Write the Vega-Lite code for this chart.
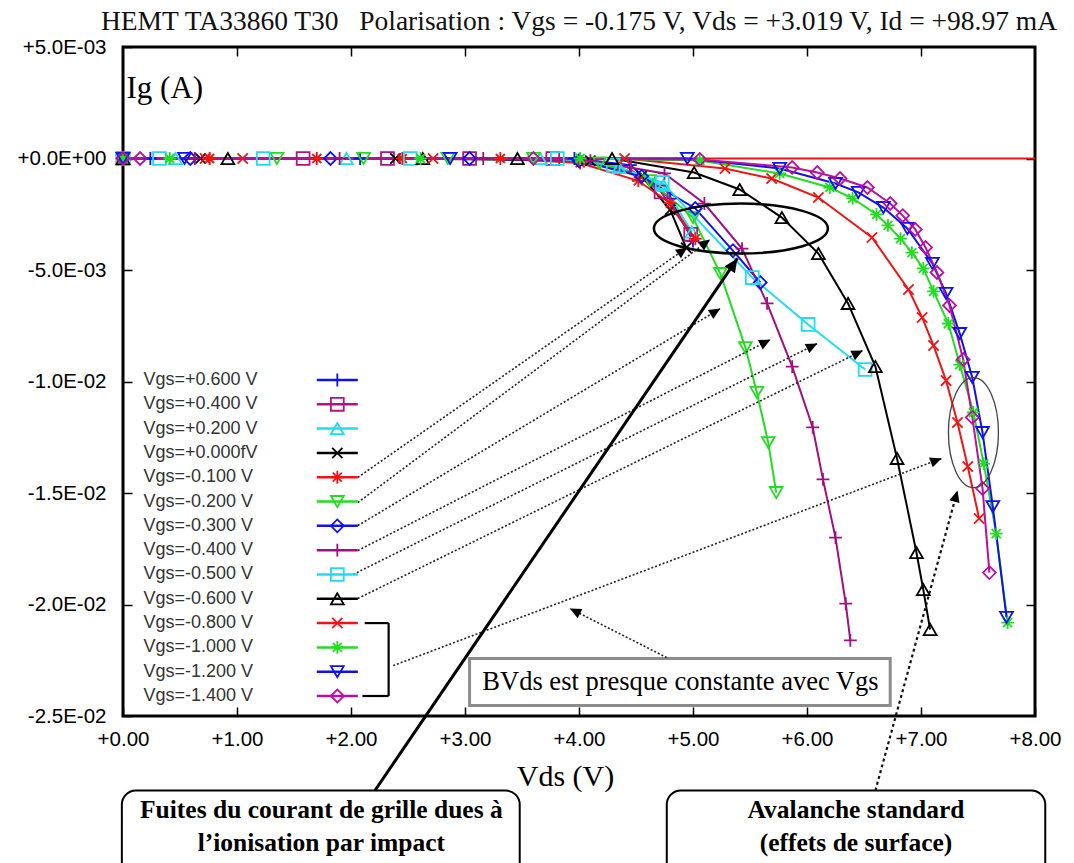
{
  "$schema": "https://vega.github.io/schema/vega-lite/v6.json",
  "width": 912,
  "height": 669,
  "autosize": {"type": "none"},
  "padding": {"left": 123, "top": 47, "right": 39, "bottom": 147},
  "background": "white",
  "title": {
    "text": "HEMT TA33860 T30\u00a0\u00a0 Polarisation : Vgs = -0.175 V, Vds = +3.019 V, Id = +98.97 mA",
    "font": "Liberation Serif",
    "fontSize": 27.5,
    "fontWeight": "normal",
    "color": "#111111",
    "anchor": "middle",
    "frame": "group",
    "offset": 2
  },
  "config": {
    "view": {"stroke": "black", "strokeWidth": 3},
    "axis": {
      "grid": false,
      "domain": false,
      "labelFont": "Liberation Sans",
      "labelFontSize": 20.5,
      "labelColor": "black",
      "tickColor": "black",
      "tickWidth": 1.5,
      "tickSize": -9
    }
  },
  "datasets": {
    "series": [
      {"Vgs": "Vgs=+0.600 V"}, {"Vgs": "Vgs=+0.400 V"}, {"Vgs": "Vgs=+0.200 V"}, {"Vgs": "Vgs=+0.000fV"},
      {"Vgs": "Vgs=-0.100 V"}, {"Vgs": "Vgs=-0.200 V"}, {"Vgs": "Vgs=-0.300 V"}, {"Vgs": "Vgs=-0.400 V"},
      {"Vgs": "Vgs=-0.500 V"}, {"Vgs": "Vgs=-0.600 V"}, {"Vgs": "Vgs=-0.800 V"}, {"Vgs": "Vgs=-1.000 V"},
      {"Vgs": "Vgs=-1.200 V"}, {"Vgs": "Vgs=-1.400 V"}
    ],
    "bracket": [{"top": "Vgs=-0.800 V", "bottom": "Vgs=-1.400 V"}],
    "curves": [
      {"Vgs": "Vgs=+0.600 V", "Vds": 0, "Ig": 0},
      {"Vgs": "Vgs=+0.600 V", "Vds": 0.24, "Ig": 0},
      {"Vgs": "Vgs=+0.600 V", "Vds": 2.08, "Ig": 0},
      {"Vgs": "Vgs=+0.600 V", "Vds": 3.96, "Ig": 0},
      {"Vgs": "Vgs=+0.600 V", "Vds": 4.45, "Ig": -0.0003},
      {"Vgs": "Vgs=+0.600 V", "Vds": 4.80, "Ig": -0.0018},
      {"Vgs": "Vgs=+0.600 V", "Vds": 5.00, "Ig": -0.0037},

      {"Vgs": "Vgs=+0.400 V", "Vds": 0, "Ig": 0},
      {"Vgs": "Vgs=+0.400 V", "Vds": 1.58, "Ig": 0},
      {"Vgs": "Vgs=+0.400 V", "Vds": 2.32, "Ig": 0},
      {"Vgs": "Vgs=+0.400 V", "Vds": 3.04, "Ig": 0},
      {"Vgs": "Vgs=+0.400 V", "Vds": 3.77, "Ig": 0},
      {"Vgs": "Vgs=+0.400 V", "Vds": 4.40, "Ig": -0.0003},
      {"Vgs": "Vgs=+0.400 V", "Vds": 4.72, "Ig": -0.0015},
      {"Vgs": "Vgs=+0.400 V", "Vds": 4.98, "Ig": -0.0034},

      {"Vgs": "Vgs=+0.200 V", "Vds": 0, "Ig": 0},
      {"Vgs": "Vgs=+0.200 V", "Vds": 0.46, "Ig": 0},
      {"Vgs": "Vgs=+0.200 V", "Vds": 1.96, "Ig": 0},
      {"Vgs": "Vgs=+0.200 V", "Vds": 3.66, "Ig": 0},
      {"Vgs": "Vgs=+0.200 V", "Vds": 4.35, "Ig": -0.0004},
      {"Vgs": "Vgs=+0.200 V", "Vds": 4.74, "Ig": -0.0012},
      {"Vgs": "Vgs=+0.200 V", "Vds": 4.99, "Ig": -0.0033},

      {"Vgs": "Vgs=+0.000fV", "Vds": 0, "Ig": 0},
      {"Vgs": "Vgs=+0.000fV", "Vds": 0.68, "Ig": 0},
      {"Vgs": "Vgs=+0.000fV", "Vds": 2.39, "Ig": 0},
      {"Vgs": "Vgs=+0.000fV", "Vds": 4.10, "Ig": -0.0001},
      {"Vgs": "Vgs=+0.000fV", "Vds": 4.55, "Ig": -0.0008},
      {"Vgs": "Vgs=+0.000fV", "Vds": 4.80, "Ig": -0.0023},
      {"Vgs": "Vgs=+0.000fV", "Vds": 4.94, "Ig": -0.0040},

      {"Vgs": "Vgs=-0.100 V", "Vds": 0, "Ig": 0},
      {"Vgs": "Vgs=-0.100 V", "Vds": 0.76, "Ig": 0},
      {"Vgs": "Vgs=-0.100 V", "Vds": 1.70, "Ig": 0},
      {"Vgs": "Vgs=-0.100 V", "Vds": 2.45, "Ig": 0},
      {"Vgs": "Vgs=-0.100 V", "Vds": 3.31, "Ig": 0},
      {"Vgs": "Vgs=-0.100 V", "Vds": 4.01, "Ig": -0.0002},
      {"Vgs": "Vgs=-0.100 V", "Vds": 4.52, "Ig": -0.0010},
      {"Vgs": "Vgs=-0.100 V", "Vds": 4.80, "Ig": -0.0020},
      {"Vgs": "Vgs=-0.100 V", "Vds": 5.02, "Ig": -0.0036},

      {"Vgs": "Vgs=-0.200 V", "Vds": 0, "Ig": 0},
      {"Vgs": "Vgs=-0.200 V", "Vds": 1.35, "Ig": 0},
      {"Vgs": "Vgs=-0.200 V", "Vds": 2.11, "Ig": 0},
      {"Vgs": "Vgs=-0.200 V", "Vds": 2.85, "Ig": 0},
      {"Vgs": "Vgs=-0.200 V", "Vds": 3.60, "Ig": 0},
      {"Vgs": "Vgs=-0.200 V", "Vds": 4.18, "Ig": -0.0002},
      {"Vgs": "Vgs=-0.200 V", "Vds": 4.62, "Ig": -0.0010},
      {"Vgs": "Vgs=-0.200 V", "Vds": 5.00, "Ig": -0.00265},
      {"Vgs": "Vgs=-0.200 V", "Vds": 5.24, "Ig": -0.00516},
      {"Vgs": "Vgs=-0.200 V", "Vds": 5.46, "Ig": -0.00848},
      {"Vgs": "Vgs=-0.200 V", "Vds": 5.56, "Ig": -0.01049},
      {"Vgs": "Vgs=-0.200 V", "Vds": 5.66, "Ig": -0.01274},
      {"Vgs": "Vgs=-0.200 V", "Vds": 5.73, "Ig": -0.01498},

      {"Vgs": "Vgs=-0.300 V", "Vds": 0, "Ig": 0},
      {"Vgs": "Vgs=-0.300 V", "Vds": 0.59, "Ig": 0},
      {"Vgs": "Vgs=-0.300 V", "Vds": 1.82, "Ig": 0},
      {"Vgs": "Vgs=-0.300 V", "Vds": 3.04, "Ig": 0},
      {"Vgs": "Vgs=-0.300 V", "Vds": 4.00, "Ig": -0.0001},
      {"Vgs": "Vgs=-0.300 V", "Vds": 4.55, "Ig": -0.0008},
      {"Vgs": "Vgs=-0.300 V", "Vds": 5.02, "Ig": -0.00224},
      {"Vgs": "Vgs=-0.300 V", "Vds": 5.35, "Ig": -0.00413},
      {"Vgs": "Vgs=-0.300 V", "Vds": 5.59, "Ig": -0.00556},

      {"Vgs": "Vgs=-0.400 V", "Vds": 0, "Ig": 0},
      {"Vgs": "Vgs=-0.400 V", "Vds": 0.63, "Ig": 0},
      {"Vgs": "Vgs=-0.400 V", "Vds": 1.90, "Ig": 0},
      {"Vgs": "Vgs=-0.400 V", "Vds": 3.16, "Ig": 0},
      {"Vgs": "Vgs=-0.400 V", "Vds": 4.10, "Ig": -0.0001},
      {"Vgs": "Vgs=-0.400 V", "Vds": 4.75, "Ig": -0.00067},
      {"Vgs": "Vgs=-0.400 V", "Vds": 5.10, "Ig": -0.00202},
      {"Vgs": "Vgs=-0.400 V", "Vds": 5.43, "Ig": -0.00404},
      {"Vgs": "Vgs=-0.400 V", "Vds": 5.65, "Ig": -0.00650},
      {"Vgs": "Vgs=-0.400 V", "Vds": 5.87, "Ig": -0.00933},
      {"Vgs": "Vgs=-0.400 V", "Vds": 6.05, "Ig": -0.01206},
      {"Vgs": "Vgs=-0.400 V", "Vds": 6.14, "Ig": -0.01439},
      {"Vgs": "Vgs=-0.400 V", "Vds": 6.25, "Ig": -0.01700},
      {"Vgs": "Vgs=-0.400 V", "Vds": 6.34, "Ig": -0.01996},
      {"Vgs": "Vgs=-0.400 V", "Vds": 6.38, "Ig": -0.02161},

      {"Vgs": "Vgs=-0.500 V", "Vds": 0, "Ig": 0},
      {"Vgs": "Vgs=-0.500 V", "Vds": 0.32, "Ig": 0},
      {"Vgs": "Vgs=-0.500 V", "Vds": 1.23, "Ig": 0},
      {"Vgs": "Vgs=-0.500 V", "Vds": 2.52, "Ig": 0},
      {"Vgs": "Vgs=-0.500 V", "Vds": 3.81, "Ig": 0},
      {"Vgs": "Vgs=-0.500 V", "Vds": 4.30, "Ig": -0.0003},
      {"Vgs": "Vgs=-0.500 V", "Vds": 4.73, "Ig": -0.00108},
      {"Vgs": "Vgs=-0.500 V", "Vds": 5.52, "Ig": -0.00534},
      {"Vgs": "Vgs=-0.500 V", "Vds": 6.01, "Ig": -0.00744},
      {"Vgs": "Vgs=-0.500 V", "Vds": 6.51, "Ig": -0.00946},

      {"Vgs": "Vgs=-0.600 V", "Vds": 0, "Ig": 0},
      {"Vgs": "Vgs=-0.600 V", "Vds": 0.92, "Ig": 0},
      {"Vgs": "Vgs=-0.600 V", "Vds": 2.63, "Ig": 0},
      {"Vgs": "Vgs=-0.600 V", "Vds": 3.46, "Ig": 0},
      {"Vgs": "Vgs=-0.600 V", "Vds": 4.29, "Ig": 0},
      {"Vgs": "Vgs=-0.600 V", "Vds": 5.01, "Ig": -0.00063},
      {"Vgs": "Vgs=-0.600 V", "Vds": 5.41, "Ig": -0.00139},
      {"Vgs": "Vgs=-0.600 V", "Vds": 5.78, "Ig": -0.00265},
      {"Vgs": "Vgs=-0.600 V", "Vds": 6.10, "Ig": -0.00426},
      {"Vgs": "Vgs=-0.600 V", "Vds": 6.36, "Ig": -0.00650},
      {"Vgs": "Vgs=-0.600 V", "Vds": 6.60, "Ig": -0.00933},
      {"Vgs": "Vgs=-0.600 V", "Vds": 6.79, "Ig": -0.01345},
      {"Vgs": "Vgs=-0.600 V", "Vds": 6.96, "Ig": -0.01767},
      {"Vgs": "Vgs=-0.600 V", "Vds": 7.02, "Ig": -0.01933},
      {"Vgs": "Vgs=-0.600 V", "Vds": 7.08, "Ig": -0.02112},

      {"Vgs": "Vgs=-0.800 V", "Vds": 0, "Ig": 0},
      {"Vgs": "Vgs=-0.800 V", "Vds": 0.72, "Ig": 0},
      {"Vgs": "Vgs=-0.800 V", "Vds": 1.05, "Ig": 0},
      {"Vgs": "Vgs=-0.800 V", "Vds": 2.72, "Ig": 0},
      {"Vgs": "Vgs=-0.800 V", "Vds": 4.40, "Ig": 0},
      {"Vgs": "Vgs=-0.800 V", "Vds": 5.28, "Ig": -0.00045},
      {"Vgs": "Vgs=-0.800 V", "Vds": 5.69, "Ig": -0.00090},
      {"Vgs": "Vgs=-0.800 V", "Vds": 6.10, "Ig": -0.00175},
      {"Vgs": "Vgs=-0.800 V", "Vds": 6.57, "Ig": -0.00354},
      {"Vgs": "Vgs=-0.800 V", "Vds": 6.89, "Ig": -0.00587},
      {"Vgs": "Vgs=-0.800 V", "Vds": 7.01, "Ig": -0.00713},
      {"Vgs": "Vgs=-0.800 V", "Vds": 7.11, "Ig": -0.00839},
      {"Vgs": "Vgs=-0.800 V", "Vds": 7.22, "Ig": -0.00996},
      {"Vgs": "Vgs=-0.800 V", "Vds": 7.32, "Ig": -0.01184},
      {"Vgs": "Vgs=-0.800 V", "Vds": 7.41, "Ig": -0.01381},
      {"Vgs": "Vgs=-0.800 V", "Vds": 7.51, "Ig": -0.01614},

      {"Vgs": "Vgs=-1.000 V", "Vds": 0, "Ig": 0},
      {"Vgs": "Vgs=-1.000 V", "Vds": 0.41, "Ig": 0},
      {"Vgs": "Vgs=-1.000 V", "Vds": 2.61, "Ig": 0},
      {"Vgs": "Vgs=-1.000 V", "Vds": 4.01, "Ig": 0},
      {"Vgs": "Vgs=-1.000 V", "Vds": 5.06, "Ig": -0.00009},
      {"Vgs": "Vgs=-1.000 V", "Vds": 5.76, "Ig": -0.00067},
      {"Vgs": "Vgs=-1.000 V", "Vds": 6.20, "Ig": -0.00130},
      {"Vgs": "Vgs=-1.000 V", "Vds": 6.40, "Ig": -0.00179},
      {"Vgs": "Vgs=-1.000 V", "Vds": 6.61, "Ig": -0.00251},
      {"Vgs": "Vgs=-1.000 V", "Vds": 6.71, "Ig": -0.00300},
      {"Vgs": "Vgs=-1.000 V", "Vds": 6.82, "Ig": -0.00359},
      {"Vgs": "Vgs=-1.000 V", "Vds": 6.92, "Ig": -0.00422},
      {"Vgs": "Vgs=-1.000 V", "Vds": 7.02, "Ig": -0.00493},
      {"Vgs": "Vgs=-1.000 V", "Vds": 7.11, "Ig": -0.00596},
      {"Vgs": "Vgs=-1.000 V", "Vds": 7.24, "Ig": -0.00740},
      {"Vgs": "Vgs=-1.000 V", "Vds": 7.34, "Ig": -0.00924},
      {"Vgs": "Vgs=-1.000 V", "Vds": 7.46, "Ig": -0.01139},
      {"Vgs": "Vgs=-1.000 V", "Vds": 7.55, "Ig": -0.01368},
      {"Vgs": "Vgs=-1.000 V", "Vds": 7.66, "Ig": -0.01682},
      {"Vgs": "Vgs=-1.000 V", "Vds": 7.76, "Ig": -0.02081},

      {"Vgs": "Vgs=-1.200 V", "Vds": 0, "Ig": 0},
      {"Vgs": "Vgs=-1.200 V", "Vds": 0.54, "Ig": 0},
      {"Vgs": "Vgs=-1.200 V", "Vds": 2.87, "Ig": 0},
      {"Vgs": "Vgs=-1.200 V", "Vds": 4.95, "Ig": 0},
      {"Vgs": "Vgs=-1.200 V", "Vds": 5.76, "Ig": -0.00045},
      {"Vgs": "Vgs=-1.200 V", "Vds": 6.25, "Ig": -0.00112},
      {"Vgs": "Vgs=-1.200 V", "Vds": 6.45, "Ig": -0.00152},
      {"Vgs": "Vgs=-1.200 V", "Vds": 6.67, "Ig": -0.00220},
      {"Vgs": "Vgs=-1.200 V", "Vds": 6.88, "Ig": -0.00314},
      {"Vgs": "Vgs=-1.200 V", "Vds": 7.10, "Ig": -0.00471},
      {"Vgs": "Vgs=-1.200 V", "Vds": 7.22, "Ig": -0.00605},
      {"Vgs": "Vgs=-1.200 V", "Vds": 7.34, "Ig": -0.00785},
      {"Vgs": "Vgs=-1.200 V", "Vds": 7.45, "Ig": -0.00982},
      {"Vgs": "Vgs=-1.200 V", "Vds": 7.54, "Ig": -0.01229},
      {"Vgs": "Vgs=-1.200 V", "Vds": 7.63, "Ig": -0.01561},
      {"Vgs": "Vgs=-1.200 V", "Vds": 7.75, "Ig": -0.02058},

      {"Vgs": "Vgs=-1.400 V", "Vds": 0, "Ig": 0},
      {"Vgs": "Vgs=-1.400 V", "Vds": 0.15, "Ig": 0},
      {"Vgs": "Vgs=-1.400 V", "Vds": 3.60, "Ig": 0},
      {"Vgs": "Vgs=-1.400 V", "Vds": 5.06, "Ig": -0.00004},
      {"Vgs": "Vgs=-1.400 V", "Vds": 5.87, "Ig": -0.00040},
      {"Vgs": "Vgs=-1.400 V", "Vds": 6.09, "Ig": -0.00063},
      {"Vgs": "Vgs=-1.400 V", "Vds": 6.29, "Ig": -0.00090},
      {"Vgs": "Vgs=-1.400 V", "Vds": 6.53, "Ig": -0.00130},
      {"Vgs": "Vgs=-1.400 V", "Vds": 6.73, "Ig": -0.00202},
      {"Vgs": "Vgs=-1.400 V", "Vds": 6.84, "Ig": -0.00256},
      {"Vgs": "Vgs=-1.400 V", "Vds": 6.95, "Ig": -0.00318},
      {"Vgs": "Vgs=-1.400 V", "Vds": 7.04, "Ig": -0.00399},
      {"Vgs": "Vgs=-1.400 V", "Vds": 7.14, "Ig": -0.00511},
      {"Vgs": "Vgs=-1.400 V", "Vds": 7.25, "Ig": -0.00659},
      {"Vgs": "Vgs=-1.400 V", "Vds": 7.37, "Ig": -0.00901},
      {"Vgs": "Vgs=-1.400 V", "Vds": 7.45, "Ig": -0.01161},
      {"Vgs": "Vgs=-1.400 V", "Vds": 7.54, "Ig": -0.01480},
      {"Vgs": "Vgs=-1.400 V", "Vds": 7.60, "Ig": -0.01857}
    ],
    "arrows": [
      {"note": "legend", "x": 2.06, "y": -0.01430, "x2": 4.95, "y2": -0.00399},
      {"note": "legend", "x": 2.06, "y": -0.01543, "x2": 5.15, "y2": -0.00363},
      {"note": "legend", "x": 2.06, "y": -0.01646, "x2": 5.24, "y2": -0.00673},
      {"note": "legend", "x": 2.06, "y": -0.01758, "x2": 5.68, "y2": -0.00812},
      {"note": "legend", "x": 2.02, "y": -0.01865, "x2": 6.09, "y2": -0.00830},
      {"note": "legend", "x": 2.06, "y": -0.01973, "x2": 6.49, "y2": -0.00861},
      {"note": "legend", "x": 2.37, "y": -0.02274, "x2": 7.18, "y2": -0.01345},
      {"note": "bvds", "x": 4.77, "y": -0.02238, "x2": 3.92, "y2": -0.02018},
      {"note": "avalanche", "x": 6.60, "y": -0.02834, "x2": 7.32, "y2": -0.01489},
      {"note": "impact", "x": 2.21, "y": -0.02834, "x2": 5.39, "y2": -0.00448}
    ],
    "boxes": [
      {"x": -0.01, "x2": 3.48, "y": -0.02834, "y2": -0.0322},
      {"x": 4.77, "x2": 8.09, "y": -0.02834, "y2": -0.0322}
    ],
    "boxText": [
      {"x": 1.74, "y": -0.0292, "text": "Fuites du courant de grille dues à"},
      {"x": 1.74, "y": -0.0307, "text": "l’ionisation par impact"},
      {"x": 6.43, "y": -0.0292, "text": "Avalanche standard"},
      {"x": 6.43, "y": -0.0307, "text": "(effets de surface)"}
    ]
  },
  "layer": [
    {
      "layer": [
        {
          "data": {"values": [{"Ig": 0}]},
          "mark": {"type": "rule", "color": "#F01515", "strokeWidth": 2},
          "encoding": {
            "y": {"field": "Ig", "type": "quantitative", "axis": null}
          }
        },
        {
          "data": {"name": "curves"},
          "mark": {"type": "line", "strokeWidth": 2},
          "encoding": {
            "x": {
              "field": "Vds", "type": "quantitative",
              "scale": {"domain": [0, 8], "nice": false, "zero": false},
              "axis": {
                "values": [0, 1, 2, 3, 4, 5, 6, 7, 8],
                "format": "+.2f",
                "labelPadding": 22,
                "labelFlush": false,
                "labelOverlap": false,
                "title": "Vds (V)",
                "titleFont": "Liberation Serif",
                "titleFontSize": 30,
                "titleFontWeight": "normal",
                "titleColor": "black",
                "titleX": 442,
                "titleY": 60,
                "titleAlign": "center",
                "titleBaseline": "middle"
              }
            },
            "y": {
              "field": "Ig", "type": "quantitative",
              "scale": {"domain": [-0.025, 0.005], "nice": false, "zero": false},
              "axis": {
                "values": [0.005, 0, -0.005, -0.01, -0.015, -0.02, -0.025],
                "labelExpr": "datum.value > 0.001 ? '+5.0E-03' : datum.value > -0.001 ? '+0.0E+00' : datum.value > -0.006 ? '-5.0E-03' : datum.value > -0.011 ? '-1.0E-02' : datum.value > -0.016 ? '-1.5E-02' : datum.value > -0.021 ? '-2.0E-02' : '-2.5E-02'",
                "labelPadding": 26,
                "title": "Ig (A)",
                "titleFont": "Liberation Serif",
                "titleFontSize": 31,
                "titleFontWeight": "normal",
                "titleColor": "black",
                "titleAngle": 0,
                "titleX": 3,
                "titleY": 41,
                "titleAlign": "left",
                "titleBaseline": "middle"
              }
            },
            "color": {
              "field": "Vgs", "type": "nominal", "legend": null,
              "scale": {
                "domain": ["Vgs=+0.600 V", "Vgs=+0.400 V", "Vgs=+0.200 V", "Vgs=+0.000fV", "Vgs=-0.100 V", "Vgs=-0.200 V", "Vgs=-0.300 V", "Vgs=-0.400 V", "Vgs=-0.500 V", "Vgs=-0.600 V", "Vgs=-0.800 V", "Vgs=-1.000 V", "Vgs=-1.200 V", "Vgs=-1.400 V"],
                "range": ["#1010F0", "#B0157F", "#20DDEE", "#000000", "#F01515", "#22DD22", "#1010F0", "#A0107F", "#20DDEE", "#000000", "#F01515", "#22DD22", "#1010F0", "#B8109F"]
              }
            }
          }
        },
        {
          "data": {"name": "curves"},
          "mark": {"type": "point", "filled": false, "size": 165, "strokeWidth": 1.8, "opacity": 1},
          "encoding": {
            "x": {"field": "Vds", "type": "quantitative", "axis": null},
            "y": {"field": "Ig", "type": "quantitative", "axis": null},
            "color": {
              "field": "Vgs", "type": "nominal", "legend": null,
              "scale": {
                "domain": ["Vgs=+0.600 V", "Vgs=+0.400 V", "Vgs=+0.200 V", "Vgs=+0.000fV", "Vgs=-0.100 V", "Vgs=-0.200 V", "Vgs=-0.300 V", "Vgs=-0.400 V", "Vgs=-0.500 V", "Vgs=-0.600 V", "Vgs=-0.800 V", "Vgs=-1.000 V", "Vgs=-1.200 V", "Vgs=-1.400 V"],
                "range": ["#1010F0", "#B0157F", "#20DDEE", "#000000", "#F01515", "#22DD22", "#1010F0", "#A0107F", "#20DDEE", "#000000", "#F01515", "#22DD22", "#1010F0", "#B8109F"]
              }
            },
            "shape": {
              "field": "Vgs", "type": "nominal", "legend": null,
              "scale": {
                "domain": ["Vgs=+0.600 V", "Vgs=+0.400 V", "Vgs=+0.200 V", "Vgs=+0.000fV", "Vgs=-0.100 V", "Vgs=-0.200 V", "Vgs=-0.300 V", "Vgs=-0.400 V", "Vgs=-0.500 V", "Vgs=-0.600 V", "Vgs=-0.800 V", "Vgs=-1.000 V", "Vgs=-1.200 V", "Vgs=-1.400 V"],
                "range": ["M-1,0H1M0,-1V1", "square", "triangle-up", "M-0.8,-0.8L0.8,0.8M-0.8,0.8L0.8,-0.8", "M-1,0H1M0,-1V1M-0.7,-0.7L0.7,0.7M-0.7,0.7L0.7,-0.7", "triangle-down", "diamond", "M-1,0H1M0,-1V1", "square", "triangle-up", "M-0.8,-0.8L0.8,0.8M-0.8,0.8L0.8,-0.8", "M-1,0H1M0,-1V1M-0.7,-0.7L0.7,0.7M-0.7,0.7L0.7,-0.7", "triangle-down", "diamond"]
              }
            }
          }
        },
        {
          "data": {"values": [{"Vds": 5.42, "Ig": -0.00314}]},
          "mark": {"type": "point", "shape": "M-1,0A1,0.287,0,1,0,1,0A1,0.287,0,1,0,-1,0Z", "size": 30276, "filled": false, "stroke": "black", "strokeWidth": 2.5, "opacity": 1},
          "encoding": {
            "x": {
              "field": "Vds", "type": "quantitative",
              "axis": {"orient": "top", "values": [1, 2, 3, 4, 5, 6, 7], "labels": false, "title": null}
            },
            "y": {
              "field": "Ig", "type": "quantitative",
              "axis": {"orient": "right", "values": [0, -0.005, -0.01, -0.015, -0.02], "labels": false, "title": null}
            }
          }
        },
        {
          "data": {"values": [{"Vds": 7.46, "Ig": -0.01229}]},
          "mark": {"type": "point", "shape": "M-0.4545,0A0.4545,1,0,1,0,0.4545,0A0.4545,1,0,1,0,-0.4545,0Z", "size": 12100, "filled": false, "stroke": "#444444", "strokeWidth": 1.3, "opacity": 1},
          "encoding": {
            "x": {"field": "Vds", "type": "quantitative", "axis": null},
            "y": {"field": "Ig", "type": "quantitative", "axis": null}
          }
        },
        {
          "data": {"name": "boxes"},
          "mark": {"type": "rect", "fill": "white", "stroke": "black", "strokeWidth": 2, "cornerRadius": 14},
          "encoding": {
            "x": {"field": "x", "type": "quantitative", "axis": null},
            "x2": {"field": "x2"},
            "y": {"field": "y", "type": "quantitative", "axis": null},
            "y2": {"field": "y2"}
          }
        },
        {
          "data": {"values": [{"x": 3.04, "x2": 6.73, "y": -0.02242, "y2": -0.02453}]},
          "mark": {"type": "rect", "fill": "white", "stroke": "#8C8C8C", "strokeWidth": 3},
          "encoding": {
            "x": {"field": "x", "type": "quantitative", "axis": null},
            "x2": {"field": "x2"},
            "y": {"field": "y", "type": "quantitative", "axis": null},
            "y2": {"field": "y2"}
          }
        },
        {
          "data": {"name": "arrows"},
          "transform": [{"filter": "datum.note == 'legend' || datum.note == 'bvds'"}],
          "mark": {"type": "rule", "color": "#222222", "strokeWidth": 1.6, "strokeDash": [2, 2]},
          "encoding": {
            "x": {"field": "x", "type": "quantitative", "axis": null},
            "y": {"field": "y", "type": "quantitative", "axis": null},
            "x2": {"field": "x2"},
            "y2": {"field": "y2"}
          }
        },
        {
          "data": {"name": "arrows"},
          "transform": [{"filter": "datum.note == 'avalanche'"}],
          "mark": {"type": "rule", "color": "#111111", "strokeWidth": 2.2, "strokeDash": [3, 3]},
          "encoding": {
            "x": {"field": "x", "type": "quantitative", "axis": null},
            "y": {"field": "y", "type": "quantitative", "axis": null},
            "x2": {"field": "x2"},
            "y2": {"field": "y2"}
          }
        },
        {
          "data": {"name": "arrows"},
          "transform": [{"filter": "datum.note == 'impact'"}],
          "mark": {"type": "rule", "color": "black", "strokeWidth": 3},
          "encoding": {
            "x": {"field": "x", "type": "quantitative", "axis": null},
            "y": {"field": "y", "type": "quantitative", "axis": null},
            "x2": {"field": "x2"},
            "y2": {"field": "y2"}
          }
        },
        {
          "data": {"name": "arrows"},
          "transform": [
            {"filter": "datum.note != 'impact'"},
            {"calculate": "atan2((datum.x2 - datum.x) * 114, (datum.y2 - datum.y) * 22300) * 180 / PI", "as": "heading"}
          ],
          "mark": {"type": "point", "shape": "M0,0L-0.55,1.2L0.55,1.2Z", "size": 360, "filled": true, "color": "black", "opacity": 1},
          "encoding": {
            "x": {"field": "x2", "type": "quantitative", "axis": null},
            "y": {"field": "y2", "type": "quantitative", "axis": null},
            "angle": {"field": "heading", "type": "quantitative", "scale": null}
          }
        },
        {
          "data": {"name": "arrows"},
          "transform": [
            {"filter": "datum.note == 'impact'"},
            {"calculate": "atan2((datum.x2 - datum.x) * 114, (datum.y2 - datum.y) * 22300) * 180 / PI", "as": "heading"}
          ],
          "mark": {"type": "point", "shape": "M0,0L-0.55,1.2L0.55,1.2Z", "size": 520, "filled": true, "color": "black", "opacity": 1},
          "encoding": {
            "x": {"field": "x2", "type": "quantitative", "axis": null},
            "y": {"field": "y2", "type": "quantitative", "axis": null},
            "angle": {"field": "heading", "type": "quantitative", "scale": null}
          }
        },
        {
          "data": {"values": [{"x": 4.89, "y": -0.02347, "text": "BVds est presque constante avec Vgs"}]},
          "mark": {"type": "text", "font": "Liberation Serif", "fontSize": 26.5, "color": "black", "align": "center", "baseline": "middle"},
          "encoding": {
            "x": {"field": "x", "type": "quantitative", "axis": null},
            "y": {"field": "y", "type": "quantitative", "axis": null},
            "text": {"field": "text"}
          }
        },
        {
          "data": {"name": "boxText"},
          "mark": {"type": "text", "font": "Liberation Serif", "fontSize": 25.5, "fontWeight": "bold", "color": "black", "align": "center", "baseline": "middle"},
          "encoding": {
            "x": {"field": "x", "type": "quantitative", "axis": null},
            "y": {"field": "y", "type": "quantitative", "axis": null},
            "text": {"field": "text"}
          }
        }
      ],
      "resolve": {"axis": {"x": "independent", "y": "independent"}}
    },
    {
      "layer": [
        {
          "data": {"name": "series"},
          "mark": {"type": "text", "align": "left", "baseline": "middle", "font": "Liberation Sans", "fontSize": 18, "color": "#333333"},
          "encoding": {
            "x": {"datum": 0.18, "type": "quantitative", "axis": null},
            "y": {
              "field": "Vgs", "type": "ordinal", "axis": null,
              "scale": {"type": "point", "padding": 0, "range": [333, 649],
                "domain": ["Vgs=+0.600 V", "Vgs=+0.400 V", "Vgs=+0.200 V", "Vgs=+0.000fV", "Vgs=-0.100 V", "Vgs=-0.200 V", "Vgs=-0.300 V", "Vgs=-0.400 V", "Vgs=-0.500 V", "Vgs=-0.600 V", "Vgs=-0.800 V", "Vgs=-1.000 V", "Vgs=-1.200 V", "Vgs=-1.400 V"]}
            },
            "text": {"field": "Vgs"}
          }
        },
        {
          "data": {"name": "series"},
          "mark": {"type": "rule", "strokeWidth": 2.5},
          "encoding": {
            "x": {"datum": 1.70, "type": "quantitative", "axis": null},
            "x2": {"datum": 2.06},
            "y": {"field": "Vgs", "type": "ordinal", "axis": null},
            "color": {
              "field": "Vgs", "type": "nominal", "legend": null,
              "scale": {
                "domain": ["Vgs=+0.600 V", "Vgs=+0.400 V", "Vgs=+0.200 V", "Vgs=+0.000fV", "Vgs=-0.100 V", "Vgs=-0.200 V", "Vgs=-0.300 V", "Vgs=-0.400 V", "Vgs=-0.500 V", "Vgs=-0.600 V", "Vgs=-0.800 V", "Vgs=-1.000 V", "Vgs=-1.200 V", "Vgs=-1.400 V"],
                "range": ["#1010F0", "#B0157F", "#20DDEE", "#000000", "#F01515", "#22DD22", "#1010F0", "#A0107F", "#20DDEE", "#000000", "#F01515", "#22DD22", "#1010F0", "#B8109F"]
              }
            }
          }
        },
        {
          "data": {"name": "series"},
          "mark": {"type": "point", "filled": false, "size": 165, "strokeWidth": 1.8, "opacity": 1},
          "encoding": {
            "x": {"datum": 1.88, "type": "quantitative", "axis": null},
            "y": {"field": "Vgs", "type": "ordinal", "axis": null},
            "color": {
              "field": "Vgs", "type": "nominal", "legend": null,
              "scale": {
                "domain": ["Vgs=+0.600 V", "Vgs=+0.400 V", "Vgs=+0.200 V", "Vgs=+0.000fV", "Vgs=-0.100 V", "Vgs=-0.200 V", "Vgs=-0.300 V", "Vgs=-0.400 V", "Vgs=-0.500 V", "Vgs=-0.600 V", "Vgs=-0.800 V", "Vgs=-1.000 V", "Vgs=-1.200 V", "Vgs=-1.400 V"],
                "range": ["#1010F0", "#B0157F", "#20DDEE", "#000000", "#F01515", "#22DD22", "#1010F0", "#A0107F", "#20DDEE", "#000000", "#F01515", "#22DD22", "#1010F0", "#B8109F"]
              }
            },
            "shape": {
              "field": "Vgs", "type": "nominal", "legend": null,
              "scale": {
                "domain": ["Vgs=+0.600 V", "Vgs=+0.400 V", "Vgs=+0.200 V", "Vgs=+0.000fV", "Vgs=-0.100 V", "Vgs=-0.200 V", "Vgs=-0.300 V", "Vgs=-0.400 V", "Vgs=-0.500 V", "Vgs=-0.600 V", "Vgs=-0.800 V", "Vgs=-1.000 V", "Vgs=-1.200 V", "Vgs=-1.400 V"],
                "range": ["M-1,0H1M0,-1V1", "square", "triangle-up", "M-0.8,-0.8L0.8,0.8M-0.8,0.8L0.8,-0.8", "M-1,0H1M0,-1V1M-0.7,-0.7L0.7,0.7M-0.7,0.7L0.7,-0.7", "triangle-down", "diamond", "M-1,0H1M0,-1V1", "square", "triangle-up", "M-0.8,-0.8L0.8,0.8M-0.8,0.8L0.8,-0.8", "M-1,0H1M0,-1V1M-0.7,-0.7L0.7,0.7M-0.7,0.7L0.7,-0.7", "triangle-down", "diamond"]
              }
            }
          }
        },
        {
          "data": {"name": "bracket"},
          "mark": {"type": "rule", "color": "black", "strokeWidth": 2.2},
          "encoding": {
            "x": {"datum": 2.12, "type": "quantitative", "axis": null},
            "x2": {"datum": 2.33},
            "y": {"field": "top", "type": "ordinal", "axis": null}
          }
        },
        {
          "data": {"name": "bracket"},
          "mark": {"type": "rule", "color": "black", "strokeWidth": 2.2},
          "encoding": {
            "x": {"datum": 2.10, "type": "quantitative", "axis": null},
            "x2": {"datum": 2.33},
            "y": {"field": "bottom", "type": "ordinal", "axis": null}
          }
        },
        {
          "data": {"name": "bracket"},
          "mark": {"type": "rule", "color": "black", "strokeWidth": 2.2},
          "encoding": {
            "x": {"datum": 2.33, "type": "quantitative", "axis": null},
            "y": {"field": "top", "type": "ordinal", "axis": null},
            "y2": {"field": "bottom"}
          }
        }
      ]
    }
  ],
  "resolve": {"scale": {"y": "independent"}, "axis": {"x": "independent", "y": "independent"}}
}
